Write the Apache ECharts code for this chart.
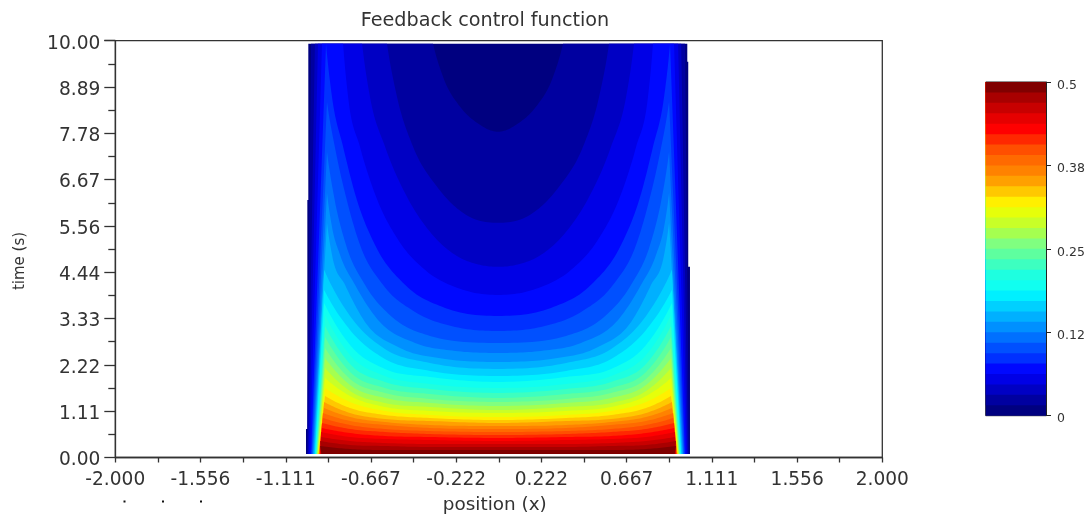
<!DOCTYPE html>
<html><head><meta charset="utf-8">
<style>html,body{margin:0;padding:0;background:#fff}#c{width:1089px;height:519px}</style>
<script src="https://cdn.jsdelivr.net/npm/echarts@6/dist/echarts.min.js"></script>
</head><body><div id="c"></div>
<script>
const xTickLabels=[-2,-1.556,-1.111,-0.667,-0.222,0.222,0.667,1.111,1.556,2];
const xTickAll=[-2,-1.778,-1.556,-1.333,-1.111,-0.889,-0.667,-0.444,-0.222,0,0.222,0.444,0.667,0.889,1.111,1.333,1.556,1.778,2];
const barTicks=[0,0.125,0.25,0.375,0.5];
const barTickLabels=['0','0.12','0.25','0.38','0.5'];
const bandColors=['#000080','#0000A0','#0000C4','#0000E6','#0008FF','#0030FF','#0050FF','#0070FF','#0090FF','#00B0FF','#00D0FF','#00F0FF','#10FFF0','#1EFFE0','#3DFFC0','#5EFF9F','#80FF80','#A5FF50','#C8FF28','#E6FF0A','#FFF000','#FFC800','#FFA000','#FF8200','#FF6A00','#FF4F00','#FF2800','#FF0000','#E60000','#C80000','#A80000','#800000'];
// mesh outline of the filled area
const meshX=[-1.0055,-1.0055,-0.9985,-0.9985,-0.9934,-0.9934,0.983,0.983,0.988,0.988,0.997,0.997];
const meshT=[0.084,0.684,0.684,6.18,6.18,9.928,9.928,9.496,9.496,4.574,4.574,0.084];
const bottomT=0.084, topT=9.928, mirrorX=-0.004;
// left end of each contour at the bottom of the mesh (k=1..31)
const edgeBottomX=[-1.000,-0.995,-0.990,-0.985,-0.979,-0.976,-0.972,-0.969,-0.966,-0.962,-0.959,-0.957,-0.955,-0.953,-0.951,-0.949,-0.947,-0.945,-0.944,-0.942,-0.940,-0.939,-0.938,-0.936,-0.935,-0.933,-0.933,-0.931,-0.929,-0.927,-0.925];
// left end of contours k=1..4 at the top of the mesh
const edgeTopX=[-0.979,-0.959,-0.943,-0.922];
// contours k=1..9, left half, from edge side to centre
const c1X=[-0.343,-0.291,-0.202,-0.114,-0.004], c1T=[9.928,9.135,8.415,8.031,7.815];
const c2X=[-0.583,-0.531,-0.447,-0.322,-0.187,-0.004], c2T=[9.928,8.655,7.455,6.495,5.87,5.63];
const c3X=[-0.713,-0.672,-0.593,-0.479,-0.359,-0.228,-0.098,-0.004], c3T=[9.928,8.655,7.455,6.254,5.414,4.862,4.622,4.574];
const c4X=[-0.812,-0.786,-0.724,-0.640,-0.525,-0.385,-0.202,-0.004], c4T=[9.928,8.655,7.455,6.254,5.222,4.502,4.046,3.901];
const c5X=[-0.901,-0.870,-0.812,-0.745,-0.646,-0.489,-0.280,-0.004], c5T=[9.928,8.655,7.455,6.254,5.102,4.142,3.589,3.397];
const c6X=[-0.896,-0.849,-0.797,-0.724,-0.604,-0.437,-0.228,-0.004], c6T=[8.535,7.311,6.254,5.102,4.142,3.493,3.133,3.037];
const c7X=[-0.896,-0.859,-0.797,-0.698,-0.557,-0.359,-0.004], c7T=[7.335,6.254,5.102,4.142,3.373,2.917,2.749];
const c8X=[-0.896,-0.870,-0.828,-0.750,-0.630,-0.437,-0.228,-0.004], c8T=[6.35,5.534,4.862,4.142,3.301,2.749,2.557,2.509];
const c9X=[-0.896,-0.870,-0.802,-0.698,-0.515,-0.280,-0.004], c9T=[5.63,4.862,4.142,3.253,2.629,2.365,2.293];
// contours k=10..31 on shared columns
const ridgeX=[-0.911,-0.911,-0.911,-0.906,-0.906,-0.906,-0.906,-0.906,-0.906,-0.906,-0.906,-0.906,-0.911,-0.911,-0.917,-0.917,-0.922,-0.922,-0.927,-0.927,-0.932,-0.932];
const colsX=[-0.776,-0.594,-0.359,-0.004];
const lowT=[
[4.502,3.397,2.605,2.269,2.125],[4.021,3.061,2.365,2.077,1.957],[3.709,2.701,2.125,1.933,1.813],
[3.421,2.461,1.957,1.765,1.669],[3.157,2.245,1.813,1.645,1.549],[2.893,2.053,1.669,1.525,1.429],
[2.629,1.885,1.549,1.405,1.333],[2.389,1.741,1.429,1.309,1.236],[2.149,1.597,1.309,1.213,1.14],
[1.909,1.477,1.213,1.116,1.068],[1.669,1.333,1.116,1.02,0.972],[1.477,1.188,1.02,0.948,0.90],
[1.333,1.068,0.924,0.876,0.828],[1.188,0.972,0.852,0.78,0.756],[1.068,0.876,0.78,0.708,0.684],
[0.948,0.78,0.684,0.636,0.612],[0.828,0.684,0.612,0.564,0.54],[0.708,0.588,0.516,0.492,0.468],
[0.612,0.492,0.444,0.42,0.396],[0.492,0.396,0.348,0.324,0.324],[0.396,0.30,0.276,0.252,0.252],
[0.276,0.204,0.18,0.18,0.18]];
const upper=[[c1X,c1T],[c2X,c2T],[c3X,c3T],[c4X,c4T],[c5X,c5T],[c6X,c6T],[c7X,c7T],[c8X,c8T],[c9X,c9T]];

function halfCurve(k){
  if(k<=9){const [a,b]=upper[k-1];return a.map((x,i)=>[x,b[i]]);}
  const r=lowT[k-10];
  return [ridgeX[k-10]].concat(colsX).map((x,i)=>[x,r[i]]);
}
// smooth drawing of the read contour points (pixel space, y as a function of x)
function curveThrough(p){
  const n=p.length,h=[],s=[],m=new Array(n);
  for(let i=0;i<n-1;i++){h[i]=p[i+1][0]-p[i][0];s[i]=(p[i+1][1]-p[i][1])/h[i];}
  m[0]=s[0]*1.3; m[n-1]=0;
  for(let i=1;i<n-1;i++){
    if(s[i-1]*s[i]<=0){m[i]=0;continue;}
    const par=(h[i]*s[i-1]+h[i-1]*s[i])/(h[i-1]+h[i]);
    const lim=3*Math.min(Math.abs(s[i-1]),Math.abs(s[i]));
    m[i]=Math.sign(par)*Math.min(Math.abs(par),lim);
  }
  const out=[];
  for(let i=0;i<n-1;i++){
    for(let j=0;j<14;j++){const u=j/14,u2=u*u,u3=u2*u;
      out.push([p[i][0]+h[i]*u,
        (2*u3-3*u2+1)*p[i][1]+(u3-2*u2+u)*h[i]*m[i]+(-2*u3+3*u2)*p[i+1][1]+(u3-u2)*h[i]*m[i+1]]);
    }
  }
  out.push(p[n-1]);
  return out;
}
function levelPoints(k,api){
  if(k===0) return meshX.map((x,i)=>api.coord([x,meshT[i]]));
  const half=curveThrough(halfCurve(k).map(q=>api.coord(q)));
  const axisPx=api.coord([mirrorX,0])[0];
  const mirrored=half.slice(0,-1).reverse().map(q=>[2*axisPx-q[0],q[1]]);
  const bL=api.coord([edgeBottomX[k-1],bottomT]), bR=api.coord([2*mirrorX-edgeBottomX[k-1],bottomT]);
  const pts=[bL];
  if(k<=4) pts.push(api.coord([edgeTopX[k-1],topT]));
  pts.push(...half,...mirrored);
  if(k<=4) pts.push(api.coord([2*mirrorX-edgeTopX[k-1],topT]));
  pts.push(bR);
  return pts;
}
const ink='#333333';
const chart=echarts.init(document.getElementById('c'),null,{renderer:'canvas'});
chart.setOption({
  animation:false,backgroundColor:'#fff',
  textStyle:{fontFamily:'DejaVu Sans'},
  title:{text:'Feedback control function',left:480,top:7,textAlign:'center',
    textStyle:{fontFamily:'DejaVu Sans',fontSize:19.2,fontWeight:'normal',color:ink}},
  grid:[
    {left:115.3,top:40.7,width:767,height:416.8,outerBoundsMode:'none',containLabel:false,show:true,borderColor:ink,borderWidth:1.3,backgroundColor:'transparent'},
    {left:985.7,top:82,width:60.3,height:333.7,outerBoundsMode:'none',containLabel:false,show:true,borderColor:'#222',borderWidth:1,backgroundColor:'transparent'}],
  xAxis:[
    {type:'value',gridIndex:0,min:-2,max:2,splitLine:{show:false},
     axisLine:{show:true,onZero:false,lineStyle:{color:ink,width:1.3}},
     axisTick:{show:true,length:5,lineStyle:{color:ink,width:1.3},customValues:xTickAll},
     axisLabel:{customValues:xTickLabels,formatter:v=>v.toFixed(3),fontFamily:'DejaVu Sans',fontSize:18.6,color:ink,margin:13,hideOverlap:false},
     name:'position (x)',nameLocation:'middle',nameGap:39,nameTextStyle:{fontFamily:'DejaVu Sans',fontSize:18.4,color:ink,padding:[0,8,0,0]}},
    {type:'value',gridIndex:1,min:0,max:1,show:false}],
  yAxis:[
    {type:'value',gridIndex:0,min:0,max:10,interval:10/9,splitLine:{show:false},
     axisLine:{show:true,onZero:false,lineStyle:{color:ink,width:1.3}},
     axisTick:{show:true,length:11,lineStyle:{color:ink,width:1.3}},
     minorTick:{show:true,splitNumber:2,length:7,lineStyle:{color:ink,width:1.3}},
     minorSplitLine:{show:false},
     axisLabel:{formatter:v=>v.toFixed(2),fontFamily:'DejaVu Sans',fontSize:18.6,color:ink,margin:15,verticalAlign:'top',lineHeight:6,showMinLabel:true,showMaxLabel:true}},
    {type:'value',gridIndex:1,min:0,max:0.5,position:'right',splitLine:{show:false},
     axisLine:{show:true,onZero:false,lineStyle:{color:'#222',width:1}},
     axisTick:{show:true,length:5,lineStyle:{color:'#222'},customValues:barTicks},
     axisLabel:{customValues:barTicks,formatter:v=>barTickLabels[barTicks.indexOf(v)],fontFamily:'DejaVu Sans',fontSize:12.5,color:ink,margin:11,verticalAlign:'top',lineHeight:7}}],
  series:[
    {type:'custom',xAxisIndex:0,yAxisIndex:0,clip:false,coordinateSystem:'cartesian2d',z:1,
     data:bandColors.map((c,i)=>[i]),
     encode:{x:-1,y:-1},silent:true,
     renderItem:(p,api)=>{const k=api.value(0);
       return {type:'polygon',shape:{points:levelPoints(k,api)},style:{fill:bandColors[k],stroke:null}};}},
    {type:'custom',xAxisIndex:1,yAxisIndex:1,clip:false,coordinateSystem:'cartesian2d',z:1,
     data:bandColors.map((c,i)=>[i]),
     encode:{x:-1,y:-1},silent:true,
     renderItem:(p,api)=>{const i=api.value(0);
       const a=api.coord([0,0.5]),b=api.coord([1,0.5*i/bandColors.length]);
       return {type:'rect',shape:{x:a[0],y:a[1],width:b[0]-a[0],height:b[1]-a[1]},style:{fill:bandColors[i],stroke:null}};}}
  ],
  graphic:[
    {type:'text',x:20,y:261,rotation:Math.PI/2,style:{text:'time (s)',fontFamily:'DejaVu Sans',fontSize:15,fill:ink,align:'center',verticalAlign:'middle'}},
    {type:'rect',shape:{x:123.5,y:500.5,width:2,height:2},style:{fill:'#111'}},
    {type:'rect',shape:{x:162,y:500.5,width:2,height:2},style:{fill:'#111'}},
    {type:'rect',shape:{x:200,y:500.5,width:2,height:2},style:{fill:'#111'}}
  ]
});
</script></body></html>
